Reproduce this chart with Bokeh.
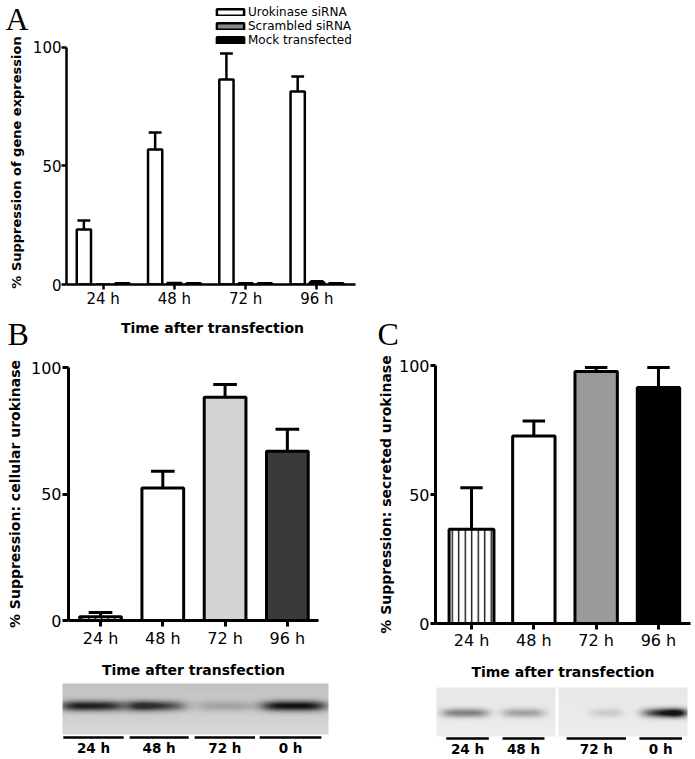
import numpy as np
from bokeh.plotting import figure
from bokeh.models import Range1d, FixedTicker, Legend, LegendItem
from bokeh.layouts import column, row
from bokeh.embed import file_html
from bokeh.resources import INLINE
from bokeh.core.properties import value

# ---------------- data ----------------
times = ["24 h", "48 h", "72 h", "96 h"]
time_pos = [1, 2, 3, 4]

# Panel A: % suppression of gene expression (mean, upper error)
a_uro = [23.2, 57.0, 86.5, 81.4]
a_uro_err = [3.8, 7.1, 11.0, 6.4]
a_scr = [0.0, 0.6, 0.5, 1.0]
a_scr_err = [0.0, 0.0, 0.0, 0.4]
a_mock = [0.5, 0.5, 0.5, 0.5]
a_mock_err = [0.0, 0.0, 0.0, 0.0]
a_series = ["Urokinase siRNA", "Scrambled siRNA", "Mock transfected"]

# Panel B: % suppression of cellular urokinase
b_vals = [1.5, 52.4, 88.2, 66.9]
b_err = [1.7, 6.6, 5.1, 8.7]

# Panel C: % suppression of secreted urokinase
c_vals = [36.5, 72.7, 97.7, 91.5]
c_err = [16.1, 5.8, 1.5, 7.7]

y_ticks = [0, 50, 100]

# Western blot lanes (lane positions, band centres/half-widths in lane units,
# band grey level 0=black 1=white, skew of darkness across the band)
blot_b_labels = ["24 h", "48 h", "72 h", "0 h"]
blot_b_lanes = [1.0, 2.0, 3.0, 4.0]
blot_b_band_c = [1.0, 1.98, 3.0, 4.05]
blot_b_band_hw = [0.50, 0.47, 0.45, 0.50]
blot_b_band_gray = [0.11, 0.18, 0.64, 0.05]
blot_b_band_skew = [-0.1, -0.45, 0.0, 0.0]
blot_b_line_hw = [0.46, 0.45, 0.46, 0.47]

blot_c_labels = ["24 h", "48 h", "72 h", "0 h"]
blot_c_lanes = [1.0, 2.0, 3.3, 4.45]
blot_c_band_c = [0.96, 2.0, 3.46, 4.48]
blot_c_band_hw = [0.42, 0.38, 0.30, 0.42]
blot_c_band_gray = [0.50, 0.63, 0.80, 0.08]
blot_c_band_skew = [0.0, 0.0, 0.3, 0.6]
blot_c_line_hw = [0.38, 0.375, 0.53, 0.38]

FONT = "DejaVu Sans"
SERIF = "Liberation Serif"
TOP_H = 353  # height of the top row (panel A and the panel letters)


def plain_fig(width, height, xr, yr):
    p = figure(width=width, height=height, x_range=Range1d(*xr), y_range=Range1d(*yr),
               output_backend="svg", toolbar_location=None, x_axis_type=None, y_axis_type=None,
               min_border=0, min_border_left=0, min_border_right=0, min_border_top=0,
               min_border_bottom=0, frame_align=False)
    p.xgrid.visible = False
    p.ygrid.visible = False
    p.outline_line_color = None
    p.background_fill_color = "white"
    p.border_fill_color = "white"
    return p


def style_axes(p, tick_size, xlab_size, ylab_size, lw,
               x_tick_out, y_tick_out, x_std, y_std, x_lab_std, y_lab_std):
    p.xgrid.visible = False
    p.ygrid.visible = False
    p.outline_line_color = None
    p.background_fill_color = "white"
    p.border_fill_color = "white"
    p.xaxis.ticker = FixedTicker(ticks=time_pos)
    p.xaxis.major_label_overrides = {k: t for k, t in zip(time_pos, times)}
    p.yaxis.ticker = FixedTicker(ticks=y_ticks)
    for ax in (p.xaxis[0], p.yaxis[0]):
        ax.axis_line_width = lw
        ax.axis_line_color = "black"
        ax.major_tick_line_width = lw
        ax.major_tick_line_color = "black"
        ax.major_tick_in = 0
        ax.minor_tick_line_color = None
        ax.major_label_text_font = FONT
        ax.major_label_text_font_size = tick_size
        ax.major_label_text_color = "black"
        ax.axis_label_text_font = FONT
        ax.axis_label_text_font_style = "bold"
        ax.axis_label_text_color = "black"
    p.xaxis[0].major_tick_out = x_tick_out
    p.yaxis[0].major_tick_out = y_tick_out
    p.xaxis[0].major_label_standoff = x_std
    p.yaxis[0].major_label_standoff = y_std
    p.xaxis[0].axis_label_standoff = x_lab_std
    p.yaxis[0].axis_label_standoff = y_lab_std
    p.xaxis[0].axis_label_text_font_size = xlab_size
    p.yaxis[0].axis_label_text_font_size = ylab_size


def error_bars(p, xs, vals, errs, cap, lw):
    x = np.asarray(xs, float)
    v = np.asarray(vals, float)
    e = np.asarray(errs, float)
    m = e > 0
    if not m.any():
        return
    p.segment(x0=x[m], y0=v[m], x1=x[m], y1=(v + e)[m], line_color="black", line_width=lw)
    p.segment(x0=(x - cap)[m], y0=(v + e)[m], x1=(x + cap)[m], y1=(v + e)[m],
              line_color="black", line_width=lw)


# ---------------- left strip: panel letters A, B and the y label of A ----------------
pL = plain_fig(29, TOP_H, (0, 29), (0, TOP_H))
pL.text(x=[5, 7], y=[TOP_H - 18, 20], text=["A", "B"], text_align="left",
        text_baseline="alphabetic", text_font=value(SERIF), text_font_size="32px",
        text_color="black")
pL.text(x=[15.5], y=[TOP_H - 162], text=["% Suppression of gene expression"], angle=np.pi / 2,
        text_align="center", text_baseline="middle", text_font=value(FONT),
        text_font_style="bold", text_font_size="13px", text_color="black")

# ---------------- Panel A ----------------
pA = figure(width=333, height=TOP_H, x_range=Range1d(0.4861, 4.5833), y_range=Range1d(0, 117.72),
            output_backend="svg", toolbar_location=None, frame_align=False,
            min_border_left=34, min_border_right=4, min_border_top=5,
            min_border_bottom=TOP_H - 284,
            x_axis_label="Time after transfection")

offsets = [-0.27, 0.0, 0.27]
fills = ["white", "#8c8c8c", "black"]
a_vals = [a_uro, a_scr, a_mock]
a_errs = [a_uro_err, a_scr_err, a_mock_err]
renderers = []
for off, fc, vals, errs in zip(offsets, fills, a_vals, a_errs):
    xs = [t + off for t in time_pos]
    error_bars(pA, xs, vals, errs, 0.09, 2.5)
    r = pA.vbar(x=xs, width=0.2, top=vals, bottom=0, fill_color=fc,
                line_color="black", line_width=2.5)
    renderers.append(r)

style_axes(pA, "15px", "14px", "13px", 2.5, 5, 5, 0, 0, 9, 3)
pA.xaxis[0].bounds = (0.4861, 4.5417)
pA.yaxis[0].bounds = (0, 100)

legend = Legend(items=[LegendItem(label=s, renderers=[r]) for s, r in zip(a_series, renderers)],
                location="top_right", orientation="vertical",
                glyph_width=34, glyph_height=8, label_standoff=1, label_width=110,
                label_text_font=FONT, label_text_font_size="12px", label_text_color="black",
                label_height=12, padding=0, spacing=0, margin=0,
                border_line_color=None, background_fill_alpha=0)
pA.add_layout(legend)

# ---------------- right strip: panel letter C ----------------
pR = plain_fig(333, TOP_H, (0, 333), (0, TOP_H))
pR.text(x=[15], y=[20], text=["C"], text_align="left", text_baseline="alphabetic",
        text_font=value(SERIF), text_font_size="32px", text_color="black")

# ---------------- Panel B ----------------
pB = figure(width=370, height=680 - TOP_H, x_range=Range1d(0.486, 4.5), y_range=Range1d(0, 100),
            output_backend="svg", toolbar_location=None, frame_align=False,
            min_border_left=68, min_border_right=52, min_border_top=367 - TOP_H,
            min_border_bottom=59,
            x_axis_label="Time after transfection",
            y_axis_label="% Suppression: cellular urokinase")
b_fills = ["white", "white", "#d4d4d4", "#3a3a3a"]
error_bars(pB, time_pos, b_vals, b_err, 0.19, 3)
pB.vbar(x=time_pos[:1], width=0.67, top=b_vals[:1], bottom=0, fill_color="white",
        line_color="black", line_width=3, hatch_pattern="vertical_line",
        hatch_scale=6.5, hatch_weight=1.3, hatch_color="black")
pB.vbar(x=time_pos[1:], width=0.67, top=b_vals[1:], bottom=0, fill_color=b_fills[1:],
        line_color="black", line_width=3)
style_axes(pB, "16px", "14px", "14px", 3, 6, 6, 2, 1, 11, 5)

# ---------------- Panel C ----------------
pC = figure(width=325, height=682 - TOP_H, x_range=Range1d(0.422, 4.514), y_range=Range1d(0, 100),
            output_backend="svg", toolbar_location=None, frame_align=False,
            min_border_left=65, min_border_right=5, min_border_top=365 - TOP_H,
            min_border_bottom=57,
            x_axis_label="Time after transfection",
            y_axis_label="% Suppression: secreted urokinase")
c_fills = ["white", "white", "#9a9a9a", "black"]
error_bars(pC, time_pos, c_vals, c_err, 0.18, 3)
pC.vbar(x=time_pos[:1], width=0.72, top=c_vals[:1], bottom=0, fill_color="white",
        line_color="black", line_width=3, hatch_pattern="vertical_line",
        hatch_scale=6.5, hatch_weight=1.3, hatch_color="black")
pC.vbar(x=time_pos[1:], width=0.68, top=c_vals[1:], bottom=0, fill_color=c_fills[1:],
        line_color="black", line_width=3)
style_axes(pC, "16px", "14px", "14px", 3, 6, 5, 1, 1, 11, 2)


# ---------------- blots ----------------
def blot_image(u0, u1, W, H, cs, hws, grays, skews, bg_top, bg_bot, yc, sig, pieces=None):
    u = u0 + (u1 - u0) * (np.arange(W) + 0.5) / W
    yy = (np.arange(H) + 0.5) / H
    g = np.repeat((bg_top + (bg_bot - bg_top) * yy)[:, None], W, axis=1)
    prof = np.exp(-((yy - yc) / sig) ** 2)[:, None]
    for c, hw, gr, sk in zip(cs, hws, grays, skews):
        d = (u - c) / hw
        wx = np.exp(-(d ** 4)) * np.clip(1 + sk * d, 0, None)
        D = np.clip(wx[None, :] * prof, 0, 1)
        g = g * (1 - D) + gr * D
    if pieces is not None:
        inside = np.zeros(W, bool)
        for a, b in pieces:
            inside |= (u >= a) & (u <= b)
        g[:, ~inside] = 1.0
    v = (np.clip(g, 0, 1) * 255).astype(np.uint8)[::-1]
    img = np.zeros((H, W), dtype=np.uint32)
    view = img.view(dtype=np.uint8).reshape((H, W, 4))
    view[:, :, 0] = v
    view[:, :, 1] = v
    view[:, :, 2] = v
    view[:, :, 3] = 255
    return img


# Blot B  (canvas 370 x 79)
unitB = 65.67
bB = plain_fig(370, 79, (1 - 93 / unitB, 1 + 277 / unitB), (0, 79))
u0, u1 = 1 + (62 - 93) / unitB, 1 + (328 - 93) / unitB
imgB = blot_image(u0, u1, 266, 51, blot_b_band_c, blot_b_band_hw, blot_b_band_gray,
                  blot_b_band_skew, 0.76, 0.85, 0.44, 0.10)
bB.image_rgba(image=[imgB], x=u0, y=25, dw=u1 - u0, dh=51)
lb = np.array(blot_b_lanes)
bB.segment(x0=lb - np.array(blot_b_line_hw), x1=lb + np.array(blot_b_line_hw),
           y0=22, y1=22, line_color="black", line_width=2.5)
bB.text(x=blot_b_lanes, y=20, text=blot_b_labels, text_align="center", text_baseline="top",
        text_font=value(FONT), text_font_style="bold", text_font_size="13.5px", text_color="black")

# Blot C  (canvas 325 x 77)
unitC = 56.0
bC = plain_fig(325, 77, (1 - 97 / unitC, 1 + 228 / unitC), (0, 77))
u0c, u1c = 1 + (436 - 467) / unitC, 1 + (687 - 467) / unitC
imgC = blot_image(u0c, u1c, 251, 49, blot_c_band_c, blot_c_band_hw, blot_c_band_gray,
                  blot_c_band_skew, 0.91, 0.93, 0.52, 0.09,
                  pieces=[(u0c, 1 + (555 - 467) / unitC), (1 + (558 - 467) / unitC, u1c)])
bC.image_rgba(image=[imgC], x=u0c, y=23, dw=u1c - u0c, dh=49)
lc = np.array(blot_c_lanes)
bC.segment(x0=lc - np.array(blot_c_line_hw), x1=lc + np.array(blot_c_line_hw),
           y0=21, y1=21, line_color="black", line_width=2.5)
bC.text(x=blot_c_lanes, y=19, text=blot_c_labels, text_align="center", text_baseline="top",
        text_font=value(FONT), text_font_style="bold", text_font_size="13.5px", text_color="black")

layout = column(row(pL, pA, pR), row(column(pB, bB), column(pC, bC)))
open("out.html", "w").write(file_html(layout, INLINE))
